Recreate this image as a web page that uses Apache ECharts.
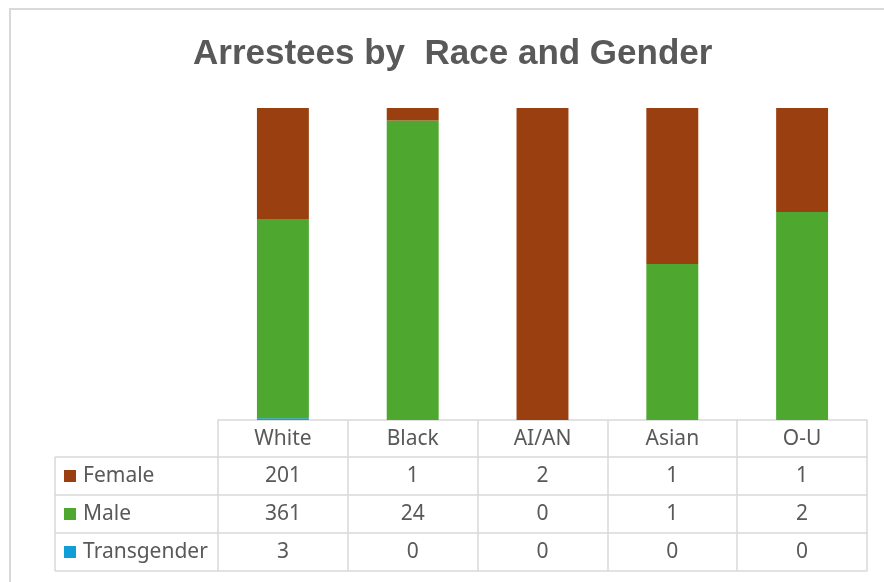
<!DOCTYPE html>
<html>
<head>
<meta charset="utf-8">
<script src="https://cdn.jsdelivr.net/npm/echarts@6/dist/echarts.min.js"></script>
<style>
  html, body { margin: 0; padding: 0; background: #fff; }
  #chart { width: 884px; height: 582px; }
</style>
</head>
<body>
<div id="chart"></div>
<script>
  var races = ['White', 'Black', 'AI/AN', 'Asian', 'O-U'];
  var female = [201, 1, 2, 1, 1];
  var male = [361, 24, 0, 1, 2];
  var transgender = [3, 0, 0, 0, 0];

  var colFemale = '#9a3f0f';
  var colMale = '#4ea72e';
  var colTrans = '#0f9ed5';
  var lineCol = '#d9d9d9';
  var txtCol = '#595959';
  var tblFont = 'Noto Sans';

  // 100% stacked -> share of each race total
  var totals = races.map(function (r, i) { return female[i] + male[i] + transgender[i]; });
  function pct(arr) {
    return arr.map(function (v, i) { return v / totals[i] * 100; });
  }

  var rowH = 38;
  var gridLeft = 218, gridTop = 108, gridBottomY = 420;

  // one x axis per table row, the first one carries the bars
  function tableAxis(offset, tickLen, labels) {
    return {
      type: 'category',
      data: races,
      position: 'bottom',
      offset: offset,
      axisLine: { show: true, lineStyle: { color: lineCol, width: 1.5 } },
      axisTick: { show: tickLen > 0, length: tickLen, lineStyle: { color: lineCol, width: 1.5 } },
      axisLabel: {
        show: !!labels,
        margin: 8,
        fontFamily: tblFont,
        fontSize: 21,
        lineHeight: 22,
        color: txtCol,
        formatter: function (v, i) { return labels ? String(labels[i]) : ''; }
      },
      splitLine: { show: false }
    };
  }

  var chart = echarts.init(document.getElementById('chart'));
  var option = {
    animation: false,
    backgroundColor: '#fff',
    title: {
      text: 'Arrestees by  Race and Gender',
      left: 193,
      top: 37,
      padding: 0,
      textStyle: { fontFamily: 'Liberation Sans', fontSize: 35, fontWeight: 'bold', color: txtCol }
    },
    legend: {
      data: ['Female', 'Male', 'Transgender'],
      orient: 'vertical',
      left: 64,
      top: 465,
      padding: 0,
      itemWidth: 12,
      itemHeight: 12,
      itemGap: 16,
      icon: 'rect',
      selectedMode: false,
      textStyle: { fontFamily: tblFont, fontSize: 21, lineHeight: 22, color: txtCol, padding: [0, 0, 0, 2] }
    },
    grid: { left: gridLeft, right: 17, top: gridTop, bottom: 582 - gridBottomY },
    xAxis: [
      tableAxis(0, 37, races),
      tableAxis(37, rowH, female),
      tableAxis(75, rowH, male),
      tableAxis(113, rowH, transgender),
      tableAxis(151, 0, null)
    ],
    yAxis: { type: 'value', min: 0, max: 100, show: false },
    graphic: [
      // left part of the data table (legend column)
      { type: 'line', shape: { x1: 55, y1: 457, x2: 218, y2: 457 }, style: { stroke: lineCol, lineWidth: 1.5 } },
      { type: 'line', shape: { x1: 55, y1: 495, x2: 218, y2: 495 }, style: { stroke: lineCol, lineWidth: 1.5 } },
      { type: 'line', shape: { x1: 55, y1: 533, x2: 218, y2: 533 }, style: { stroke: lineCol, lineWidth: 1.5 } },
      { type: 'line', shape: { x1: 55, y1: 571, x2: 218, y2: 571 }, style: { stroke: lineCol, lineWidth: 1.5 } },
      { type: 'line', shape: { x1: 55, y1: 457, x2: 55, y2: 571 }, style: { stroke: lineCol, lineWidth: 1.5 } },
      // chart frame
      { type: 'rect', silent: true, z: -1, shape: { x: 10, y: 9, width: 900, height: 600 }, style: { fill: null, stroke: lineCol, lineWidth: 2 } }
    ],
    series: [
      { name: 'Transgender', type: 'bar', stack: 'g', barWidth: '40%', itemStyle: { color: colTrans }, data: pct(transgender) },
      { name: 'Male', type: 'bar', stack: 'g', barWidth: '40%', itemStyle: { color: colMale }, data: pct(male) },
      { name: 'Female', type: 'bar', stack: 'g', barWidth: '40%', itemStyle: { color: colFemale }, data: pct(female) }
    ]
  };
  chart.setOption(option);
</script>
</body>
</html>
